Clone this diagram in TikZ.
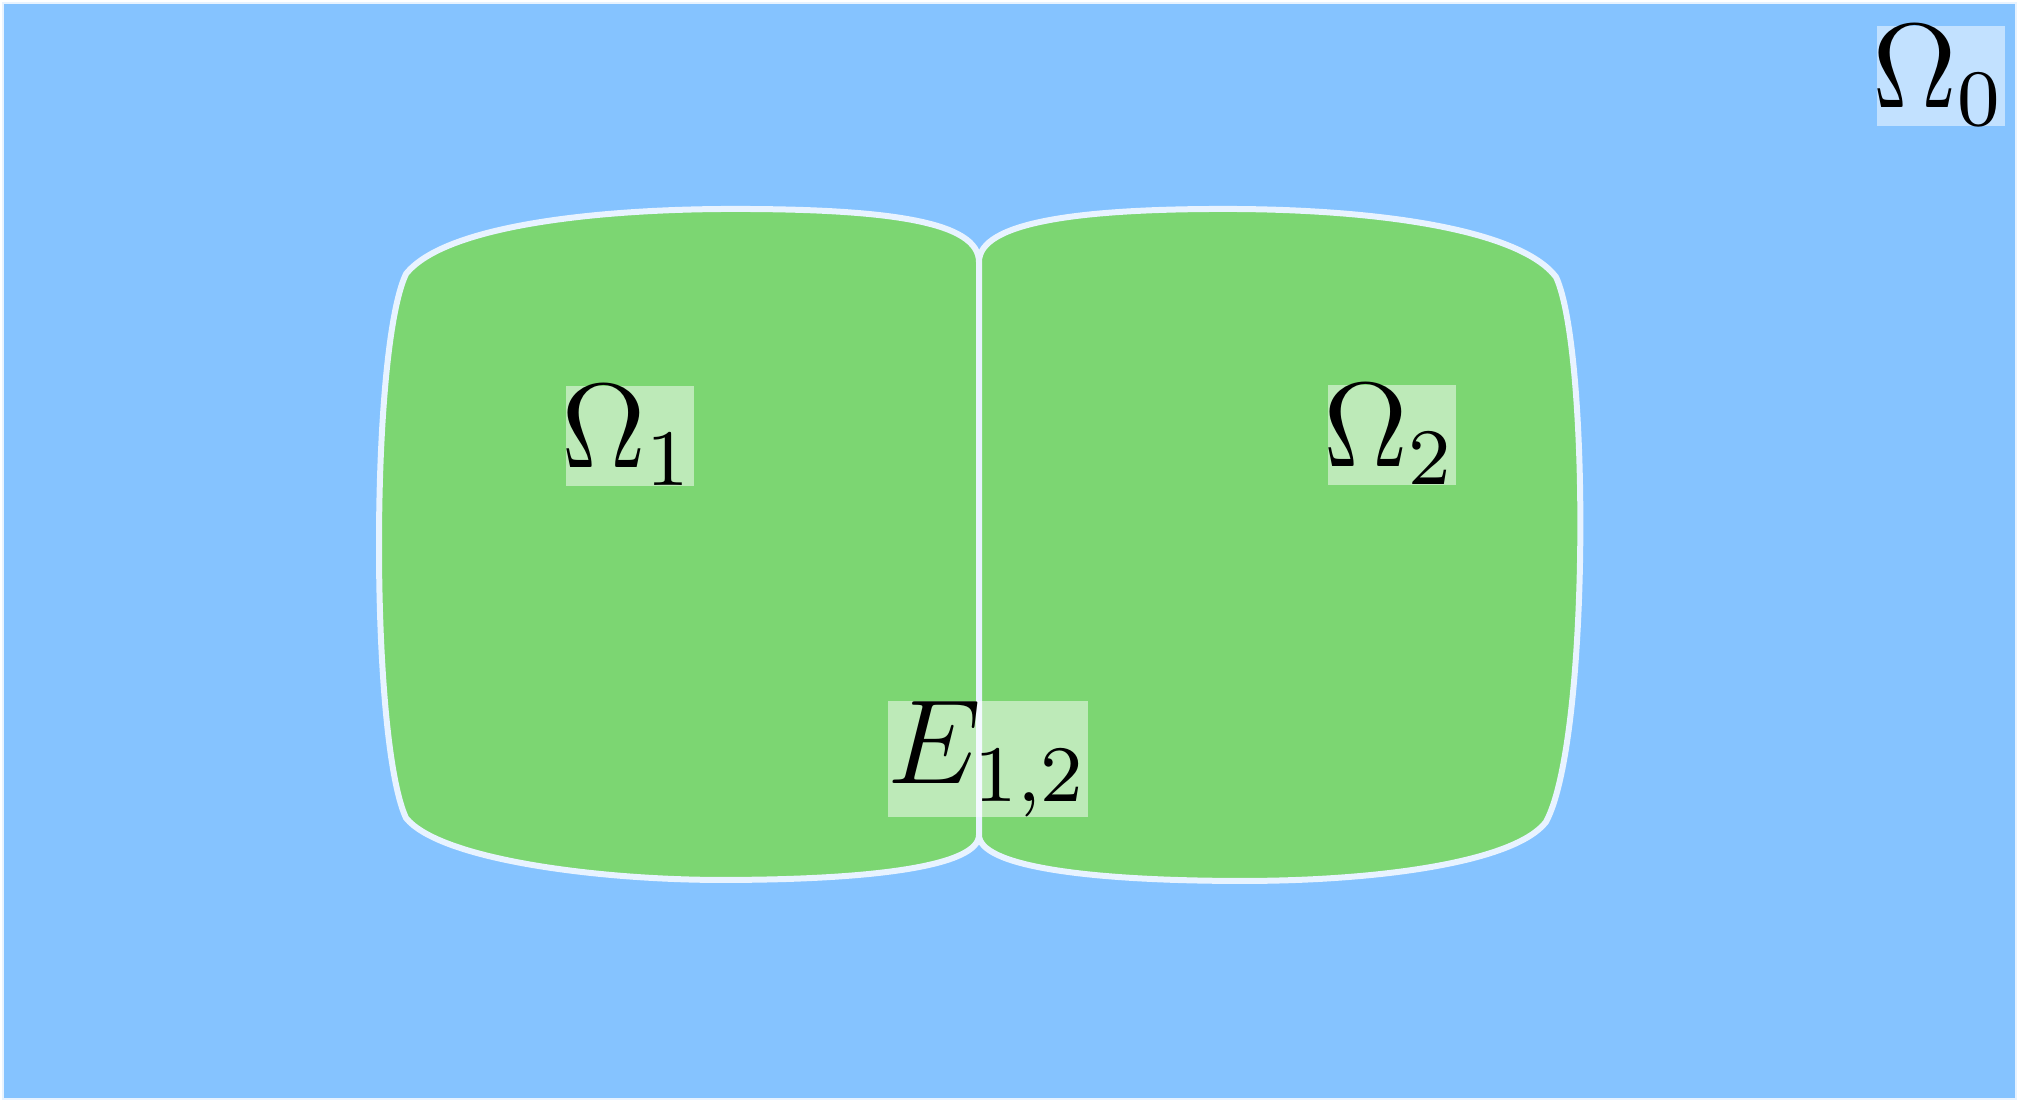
\documentclass[tikz,border=0pt]{standalone}
\definecolor{bgblue}{RGB}{133,195,255}
\definecolor{regiongreen}{RGB}{124,214,114}
\definecolor{edgecol}{RGB}{232,243,255}
\tikzset{
  region/.style={fill=regiongreen, draw=edgecol, line width=0.6pt, line join=round},
  lab/.style={fill=white, fill opacity=0.5, text opacity=1, inner sep=0pt, font=\fontsize{12}{14}\selectfont}
}
\begin{document}
\begin{tikzpicture}[x=0.1pt,y=-0.1pt]
\useasboundingbox (0,0) rectangle (2020,1102);
\draw[fill=bgblue, draw=edgecol, line width=0.2pt] (3,3) rectangle (2016,1099);
\path[region] (979,262) .. controls (979,222) and (890,209) .. (734,209)
  .. controls (600,209) and (445,225) .. (406,274)
  .. controls (370,350) and (370,740) .. (406,818)
  .. controls (440,860) and (600,880) .. (721,880)
  .. controls (880,880) and (979,865) .. (979,835) -- cycle;
\path[region] (979,262) .. controls (979,222) and (1080,209) .. (1224,209)
  .. controls (1380,209) and (1520,230) .. (1556,277)
  .. controls (1590,350) and (1590,740) .. (1546,822)
  .. controls (1515,862) and (1380,881) .. (1243,881)
  .. controls (1080,881) and (979,865) .. (979,835) -- cycle;
\node[lab] (om1) at (630,436) {\hspace{-0.4pt}$\Omega_1$\hspace{-0.9pt}};
\node[lab] (om2) at (1392,435) {\hspace{-0.4pt}$\Omega_2$\hspace{-0.9pt}};
\node[lab] (om0) at (1941,76) {\hspace{-0.4pt}$\Omega_0$\hspace{-0.9pt}};
\node[lab] (e12) at (988,759) {$E_{1,2}$};
\end{tikzpicture}
\end{document}
